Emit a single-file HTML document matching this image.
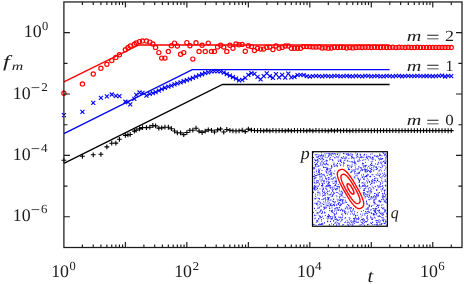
<!DOCTYPE html>
<html><head><meta charset="utf-8"><title>plot</title>
<style>html,body{margin:0;padding:0;background:#fff}svg{display:block}</style></head>
<body>
<svg width="464" height="284" viewBox="0 0 464 284">
<rect width="464" height="284" fill="#fff"/>
<polyline fill="none" stroke="#f00" stroke-width="1.35" points="63.9,81.8 138.9,45.0 389.6,45.0"/>
<polyline fill="none" stroke="#00f" stroke-width="1.35" points="63.9,133.6 192.3,69.6 389.6,69.6"/>
<polyline fill="none" stroke="#000" stroke-width="1.35" points="63.9,163.4 222.5,84.5 389.6,84.5"/>
<path d="M61.50,160.20h4.8M63.90,157.80v4.8M80.01,156.30h4.8M82.41,153.90v4.8M90.83,154.80h4.8M93.23,152.40v4.8M98.51,154.30h4.8M100.91,151.90v4.8M104.47,146.90h4.8M106.87,144.50v4.8M109.34,143.20h4.8M111.74,140.80v4.8M113.46,143.10h4.8M115.86,140.70v4.8M117.02,139.30h4.8M119.42,136.90v4.8M122.98,135.33h4.8M125.38,132.93v4.8M125.52,134.90h4.8M127.92,132.50v4.8M127.85,134.46h4.8M130.25,132.06v4.8M131.96,131.13h4.8M134.36,128.73v4.8M133.81,130.20h4.8M136.21,127.80v4.8M137.15,128.88h4.8M139.55,126.48v4.8M140.12,127.60h4.8M142.52,125.20v4.8M144.03,127.60h4.8M146.43,125.20v4.8M147.45,127.18h4.8M149.85,124.78v4.8M150.47,125.52h4.8M152.87,123.12v4.8M153.19,125.90h4.8M155.59,123.50v4.8M156.43,128.10h4.8M158.83,125.70v4.8M159.32,127.90h4.8M161.72,125.50v4.8M162.54,127.20h4.8M164.94,124.80v4.8M165.95,127.23h4.8M168.35,124.83v4.8M168.98,128.69h4.8M171.38,126.29v4.8M172.12,131.02h4.8M174.52,128.62v4.8M174.94,132.80h4.8M177.34,130.40v4.8M178.17,132.90h4.8M180.57,130.50v4.8M181.35,134.67h4.8M183.75,132.27v4.8M184.46,132.53h4.8M186.86,130.13v4.8M187.49,130.31h4.8M189.89,127.91v4.8M190.42,130.19h4.8M192.82,127.79v4.8M193.63,128.23h4.8M196.03,125.83v4.8M196.67,131.17h4.8M199.07,128.77v4.8M199.71,132.50h4.8M202.11,130.10v4.8M202.83,131.19h4.8M205.23,128.79v4.8M205.87,129.91h4.8M208.27,127.51v4.8M209.03,130.32h4.8M211.43,127.92v4.8M212.05,131.97h4.8M214.45,129.57v4.8M215.18,129.88h4.8M217.58,127.48v4.8M218.21,129.06h4.8M220.61,126.66v4.8M221.34,132.06h4.8M223.74,129.66v4.8M224.38,129.52h4.8M226.78,127.12v4.8M227.49,130.30h4.8M229.89,127.90v4.8M230.55,130.80h4.8M232.95,128.40v4.8M233.60,131.00h4.8M236.00,128.60v4.8M236.68,130.80h4.8M239.08,128.40v4.8M239.78,130.20h4.8M242.18,127.80v4.8M242.86,131.58h4.8M245.26,129.18v4.8M245.94,129.11h4.8M248.34,126.71v4.8M249.01,130.20h4.8M251.41,127.80v4.8M252.07,130.50h4.8M254.47,128.10v4.8M255.15,130.65h4.8M257.55,128.25v4.8M258.22,130.50h4.8M260.62,128.10v4.8M261.31,130.89h4.8M263.71,128.49v4.8M264.38,130.37h4.8M266.78,127.97v4.8M267.45,130.91h4.8M269.85,128.51v4.8M270.52,130.45h4.8M272.92,128.05v4.8M273.60,130.75h4.8M276.00,128.35v4.8M276.68,130.67h4.8M279.08,128.27v4.8M279.75,130.51h4.8M282.15,128.11v4.8M282.83,130.88h4.8M285.23,128.48v4.8M285.90,130.37h4.8M288.30,127.97v4.8M288.97,130.92h4.8M291.37,128.52v4.8M292.05,130.44h4.8M294.45,128.04v4.8M295.12,130.76h4.8M297.52,128.36v4.8M298.20,130.66h4.8M300.60,128.26v4.8M301.27,130.52h4.8M303.67,128.12v4.8M304.34,130.87h4.8M306.74,128.47v4.8M307.42,130.38h4.8M309.82,127.98v4.8M310.49,130.92h4.8M312.89,128.52v4.8M313.57,130.43h4.8M315.97,128.03v4.8M316.64,130.77h4.8M319.04,128.37v4.8M319.71,130.65h4.8M322.11,128.25v4.8M322.79,130.53h4.8M325.19,128.13v4.8M325.86,130.86h4.8M328.26,128.46v4.8M328.94,130.38h4.8M331.34,127.98v4.8M332.01,130.93h4.8M334.41,128.53v4.8M335.09,130.42h4.8M337.49,128.02v4.8M338.16,130.79h4.8M340.56,128.39v4.8M341.23,130.63h4.8M343.63,128.23v4.8M344.31,130.55h4.8M346.71,128.15v4.8M347.38,130.85h4.8M349.78,128.45v4.8M350.46,130.54h4.8M352.86,128.14v4.8M353.53,130.76h4.8M355.93,128.36v4.8M356.60,130.56h4.8M359.00,128.16v4.8M359.68,130.71h4.8M362.08,128.31v4.8M362.75,130.64h4.8M365.15,128.24v4.8M365.83,130.61h4.8M368.23,128.21v4.8M368.90,130.73h4.8M371.30,128.33v4.8M371.97,130.55h4.8M374.37,128.15v4.8M375.05,130.76h4.8M377.45,128.36v4.8M378.12,130.55h4.8M380.52,128.15v4.8M381.20,130.71h4.8M383.60,128.31v4.8M384.27,130.63h4.8M386.67,128.23v4.8M387.34,130.62h4.8M389.74,128.22v4.8M390.42,130.72h4.8M392.82,128.32v4.8M393.49,130.55h4.8M395.89,128.15v4.8M396.57,130.76h4.8M398.97,128.36v4.8M399.64,130.55h4.8M402.04,128.15v4.8M402.71,130.72h4.8M405.11,128.32v4.8M405.79,130.63h4.8M408.19,128.23v4.8M408.86,130.62h4.8M411.26,128.22v4.8M411.94,130.72h4.8M414.34,128.32v4.8M415.01,130.55h4.8M417.41,128.15v4.8M418.08,130.76h4.8M420.48,128.36v4.8M421.16,130.55h4.8M423.56,128.15v4.8M424.23,130.72h4.8M426.63,128.32v4.8M427.31,130.62h4.8M429.71,128.22v4.8M430.38,130.63h4.8M432.78,128.23v4.8M433.45,130.71h4.8M435.85,128.31v4.8M436.53,130.55h4.8M438.93,128.15v4.8M439.60,130.76h4.8M442.00,128.36v4.8M442.68,130.55h4.8M445.08,128.15v4.8M445.75,130.73h4.8M448.15,128.33v4.8M448.82,130.62h4.8M451.22,128.22v4.8" stroke="#000" stroke-width="1.1" fill="none"/>
<path d="M61.90,113.20l4.0,4.0M61.90,117.20l4.0,-4.0M80.41,109.80l4.0,4.0M80.41,113.80l4.0,-4.0M91.23,100.80l4.0,4.0M91.23,104.80l4.0,-4.0M98.91,95.90l4.0,4.0M98.91,99.90l4.0,-4.0M104.87,94.40l4.0,4.0M104.87,98.40l4.0,-4.0M109.74,92.50l4.0,4.0M109.74,96.50l4.0,-4.0M113.86,93.90l4.0,4.0M113.86,97.90l4.0,-4.0M117.42,94.20l4.0,4.0M117.42,98.20l4.0,-4.0M123.38,99.75l4.0,4.0M123.38,103.75l4.0,-4.0M125.92,100.13l4.0,4.0M125.92,104.13l4.0,-4.0M128.25,102.43l4.0,4.0M128.25,106.43l4.0,-4.0M132.36,96.85l4.0,4.0M132.36,100.85l4.0,-4.0M134.21,92.80l4.0,4.0M134.21,96.80l4.0,-4.0M137.55,90.51l4.0,4.0M137.55,94.51l4.0,-4.0M140.52,90.91l4.0,4.0M140.52,94.91l4.0,-4.0M144.43,93.58l4.0,4.0M144.43,97.58l4.0,-4.0M147.85,91.98l4.0,4.0M147.85,95.98l4.0,-4.0M150.87,91.09l4.0,4.0M150.87,95.09l4.0,-4.0M153.59,90.06l4.0,4.0M153.59,94.06l4.0,-4.0M156.83,88.63l4.0,4.0M156.83,92.63l4.0,-4.0M159.72,87.07l4.0,4.0M159.72,91.07l4.0,-4.0M162.94,85.76l4.0,4.0M162.94,89.76l4.0,-4.0M166.35,84.58l4.0,4.0M166.35,88.58l4.0,-4.0M169.38,83.53l4.0,4.0M169.38,87.53l4.0,-4.0M172.52,82.45l4.0,4.0M172.52,86.45l4.0,-4.0M175.34,81.47l4.0,4.0M175.34,85.47l4.0,-4.0M178.57,80.36l4.0,4.0M178.57,84.36l4.0,-4.0M181.75,79.26l4.0,4.0M181.75,83.26l4.0,-4.0M184.86,78.18l4.0,4.0M184.86,82.18l4.0,-4.0M187.89,77.14l4.0,4.0M187.89,81.14l4.0,-4.0M190.82,75.97l4.0,4.0M190.82,79.97l4.0,-4.0M194.03,74.69l4.0,4.0M194.03,78.69l4.0,-4.0M197.07,73.47l4.0,4.0M197.07,77.47l4.0,-4.0M200.11,72.26l4.0,4.0M200.11,76.26l4.0,-4.0M203.23,71.21l4.0,4.0M203.23,75.21l4.0,-4.0M206.27,70.28l4.0,4.0M206.27,74.28l4.0,-4.0M209.43,69.72l4.0,4.0M209.43,73.72l4.0,-4.0M212.45,69.44l4.0,4.0M212.45,73.44l4.0,-4.0M215.58,69.45l4.0,4.0M215.58,73.45l4.0,-4.0M218.61,69.73l4.0,4.0M218.61,73.73l4.0,-4.0M221.74,70.53l4.0,4.0M221.74,74.53l4.0,-4.0M224.78,72.07l4.0,4.0M224.78,76.07l4.0,-4.0M227.89,73.63l4.0,4.0M227.89,77.63l4.0,-4.0M230.95,75.12l4.0,4.0M230.95,79.12l4.0,-4.0M234.00,76.70l4.0,4.0M234.00,80.70l4.0,-4.0M237.08,78.39l4.0,4.0M237.08,82.39l4.0,-4.0M240.18,77.90l4.0,4.0M240.18,81.90l4.0,-4.0M243.26,75.83l4.0,4.0M243.26,79.83l4.0,-4.0M246.34,72.78l4.0,4.0M246.34,76.78l4.0,-4.0M249.41,71.05l4.0,4.0M249.41,75.05l4.0,-4.0M252.47,71.89l4.0,4.0M252.47,75.89l4.0,-4.0M255.55,74.85l4.0,4.0M255.55,78.85l4.0,-4.0M258.62,77.28l4.0,4.0M258.62,81.28l4.0,-4.0M261.71,74.09l4.0,4.0M261.71,78.09l4.0,-4.0M264.78,71.32l4.0,4.0M264.78,75.32l4.0,-4.0M267.85,74.05l4.0,4.0M267.85,78.05l4.0,-4.0M270.92,75.97l4.0,4.0M270.92,79.97l4.0,-4.0M274.00,72.10l4.0,4.0M274.00,76.10l4.0,-4.0M277.08,75.38l4.0,4.0M277.08,79.38l4.0,-4.0M280.15,72.85l4.0,4.0M280.15,76.85l4.0,-4.0M283.23,75.56l4.0,4.0M283.23,79.56l4.0,-4.0M286.30,71.65l4.0,4.0M286.30,75.65l4.0,-4.0M289.37,75.37l4.0,4.0M289.37,79.37l4.0,-4.0M292.45,74.87l4.0,4.0M292.45,78.87l4.0,-4.0M295.52,73.20l4.0,4.0M295.52,77.20l4.0,-4.0M298.60,72.80l4.0,4.0M298.60,76.80l4.0,-4.0M301.67,73.20l4.0,4.0M301.67,77.20l4.0,-4.0M304.74,74.11l4.0,4.0M304.74,78.11l4.0,-4.0M307.82,74.70l4.0,4.0M307.82,78.70l4.0,-4.0M310.89,74.12l4.0,4.0M310.89,78.12l4.0,-4.0M313.97,73.80l4.0,4.0M313.97,77.80l4.0,-4.0M317.04,74.19l4.0,4.0M317.04,78.19l4.0,-4.0M320.11,74.34l4.0,4.0M320.11,78.34l4.0,-4.0M323.19,73.85l4.0,4.0M323.19,77.85l4.0,-4.0M326.26,74.02l4.0,4.0M326.26,78.02l4.0,-4.0M329.34,74.40l4.0,4.0M329.34,78.40l4.0,-4.0M332.41,73.98l4.0,4.0M332.41,77.98l4.0,-4.0M335.49,73.88l4.0,4.0M335.49,77.88l4.0,-4.0M338.56,74.36l4.0,4.0M338.56,78.36l4.0,-4.0M341.63,74.16l4.0,4.0M341.63,78.16l4.0,-4.0M344.71,73.80l4.0,4.0M344.71,77.80l4.0,-4.0M347.78,74.24l4.0,4.0M347.78,78.24l4.0,-4.0M350.86,74.31l4.0,4.0M350.86,78.31l4.0,-4.0M353.93,73.83l4.0,4.0M353.93,77.83l4.0,-4.0M357.00,74.07l4.0,4.0M357.00,78.07l4.0,-4.0M360.08,74.39l4.0,4.0M360.08,78.39l4.0,-4.0M363.15,73.94l4.0,4.0M363.15,77.94l4.0,-4.0M366.23,73.91l4.0,4.0M366.23,77.91l4.0,-4.0M369.30,74.38l4.0,4.0M369.30,78.38l4.0,-4.0M372.37,74.11l4.0,4.0M372.37,78.11l4.0,-4.0M375.45,73.81l4.0,4.0M375.45,77.81l4.0,-4.0M378.52,74.27l4.0,4.0M378.52,78.27l4.0,-4.0M381.60,74.27l4.0,4.0M381.60,78.27l4.0,-4.0M384.67,73.81l4.0,4.0M384.67,77.81l4.0,-4.0M387.74,74.11l4.0,4.0M387.74,78.11l4.0,-4.0M390.82,74.38l4.0,4.0M390.82,78.38l4.0,-4.0M393.89,73.91l4.0,4.0M393.89,77.91l4.0,-4.0M396.97,73.94l4.0,4.0M396.97,77.94l4.0,-4.0M400.04,74.25l4.0,4.0M400.04,78.25l4.0,-4.0M403.11,74.08l4.0,4.0M403.11,78.08l4.0,-4.0M406.19,73.96l4.0,4.0M406.19,77.96l4.0,-4.0M409.26,74.20l4.0,4.0M409.26,78.20l4.0,-4.0M412.34,74.17l4.0,4.0M412.34,78.17l4.0,-4.0M415.41,73.95l4.0,4.0M415.41,77.95l4.0,-4.0M418.48,74.13l4.0,4.0M418.48,78.13l4.0,-4.0M421.56,74.23l4.0,4.0M421.56,78.23l4.0,-4.0M424.63,73.99l4.0,4.0M424.63,77.99l4.0,-4.0M427.71,74.04l4.0,4.0M427.71,78.04l4.0,-4.0M430.78,74.25l4.0,4.0M430.78,78.25l4.0,-4.0M433.85,74.06l4.0,4.0M433.85,78.06l4.0,-4.0M436.93,73.98l4.0,4.0M436.93,77.98l4.0,-4.0M440.00,73.52l4.0,4.0M440.00,77.52l4.0,-4.0M443.08,74.50l4.0,4.0M443.08,78.50l4.0,-4.0M446.15,73.95l4.0,4.0M446.15,77.95l4.0,-4.0M449.22,74.15l4.0,4.0M449.22,78.15l4.0,-4.0" stroke="#00f" stroke-width="1.1" fill="none"/>
<g fill="none" stroke="#f00" stroke-width="1.2">
<circle cx="63.90" cy="93.30" r="2.1"/>
<circle cx="82.41" cy="83.90" r="2.1"/>
<circle cx="93.23" cy="74.00" r="2.1"/>
<circle cx="100.91" cy="68.30" r="2.1"/>
<circle cx="106.87" cy="64.30" r="2.1"/>
<circle cx="111.74" cy="60.60" r="2.1"/>
<circle cx="115.86" cy="57.40" r="2.1"/>
<circle cx="119.42" cy="54.70" r="2.1"/>
<circle cx="125.38" cy="49.70" r="2.1"/>
<circle cx="127.92" cy="47.80" r="2.1"/>
<circle cx="130.25" cy="46.00" r="2.1"/>
<circle cx="134.36" cy="44.30" r="2.1"/>
<circle cx="136.21" cy="42.90" r="2.1"/>
<circle cx="139.55" cy="41.60" r="2.1"/>
<circle cx="142.52" cy="40.90" r="2.1"/>
<circle cx="146.43" cy="41.00" r="2.1"/>
<circle cx="149.85" cy="42.10" r="2.1"/>
<circle cx="152.87" cy="44.00" r="2.1"/>
<circle cx="155.59" cy="47.40" r="2.1"/>
<circle cx="158.83" cy="52.60" r="2.1"/>
<circle cx="161.72" cy="58.10" r="2.1"/>
<circle cx="164.94" cy="58.10" r="2.1"/>
<circle cx="168.35" cy="51.40" r="2.1"/>
<circle cx="171.38" cy="45.70" r="2.1"/>
<circle cx="174.52" cy="43.10" r="2.1"/>
<circle cx="177.34" cy="46.00" r="2.1"/>
<circle cx="180.57" cy="54.30" r="2.1"/>
<circle cx="183.75" cy="52.60" r="2.1"/>
<circle cx="186.86" cy="42.60" r="2.1"/>
<circle cx="189.89" cy="45.70" r="2.1"/>
<circle cx="192.82" cy="59.10" r="2.1"/>
<circle cx="196.03" cy="42.80" r="2.1"/>
<circle cx="199.07" cy="51.40" r="2.1"/>
<circle cx="202.11" cy="45.20" r="2.1"/>
<circle cx="205.23" cy="51.40" r="2.1"/>
<circle cx="208.27" cy="43.10" r="2.1"/>
<circle cx="211.43" cy="51.40" r="2.1"/>
<circle cx="214.45" cy="51.40" r="2.1"/>
<circle cx="217.58" cy="46.90" r="2.1"/>
<circle cx="220.61" cy="45.30" r="2.1"/>
<circle cx="223.74" cy="47.10" r="2.1"/>
<circle cx="226.78" cy="51.40" r="2.1"/>
<circle cx="229.89" cy="45.30" r="2.1"/>
<circle cx="232.95" cy="48.30" r="2.1"/>
<circle cx="236.00" cy="44.00" r="2.1"/>
<circle cx="239.08" cy="44.80" r="2.1"/>
<circle cx="242.18" cy="44.40" r="2.1"/>
<circle cx="245.26" cy="51.30" r="2.1"/>
<circle cx="248.34" cy="45.80" r="2.1"/>
<circle cx="251.41" cy="46.60" r="2.1"/>
<circle cx="254.47" cy="50.50" r="2.1"/>
<circle cx="257.55" cy="48.30" r="2.1"/>
<circle cx="260.62" cy="49.10" r="2.1"/>
<circle cx="263.71" cy="49.10" r="2.1"/>
<circle cx="266.78" cy="47.40" r="2.1"/>
<circle cx="269.85" cy="47.10" r="2.1"/>
<circle cx="272.92" cy="49.50" r="2.1"/>
<circle cx="276.00" cy="46.00" r="2.1"/>
<circle cx="279.08" cy="48.30" r="2.1"/>
<circle cx="282.15" cy="47.40" r="2.1"/>
<circle cx="285.23" cy="46.00" r="2.1"/>
<circle cx="288.30" cy="46.00" r="2.1"/>
<circle cx="291.37" cy="48.30" r="2.1"/>
<circle cx="294.45" cy="48.30" r="2.1"/>
<circle cx="297.52" cy="48.30" r="2.1"/>
<circle cx="300.60" cy="48.30" r="2.1"/>
<circle cx="303.67" cy="46.60" r="2.1"/>
<circle cx="306.74" cy="46.60" r="2.1"/>
<circle cx="309.82" cy="46.70" r="2.1"/>
<circle cx="312.89" cy="47.10" r="2.1"/>
<circle cx="315.97" cy="47.10" r="2.1"/>
<circle cx="319.04" cy="46.90" r="2.1"/>
<circle cx="322.11" cy="48.08" r="2.1"/>
<circle cx="325.19" cy="47.83" r="2.1"/>
<circle cx="328.26" cy="48.15" r="2.1"/>
<circle cx="331.34" cy="47.97" r="2.1"/>
<circle cx="334.41" cy="47.29" r="2.1"/>
<circle cx="337.49" cy="47.58" r="2.1"/>
<circle cx="340.56" cy="47.27" r="2.1"/>
<circle cx="343.63" cy="47.39" r="2.1"/>
<circle cx="346.71" cy="47.94" r="2.1"/>
<circle cx="349.78" cy="47.62" r="2.1"/>
<circle cx="352.86" cy="47.89" r="2.1"/>
<circle cx="355.93" cy="47.45" r="2.1"/>
<circle cx="359.00" cy="47.24" r="2.1"/>
<circle cx="362.08" cy="47.57" r="2.1"/>
<circle cx="365.15" cy="47.34" r="2.1"/>
<circle cx="368.23" cy="47.31" r="2.1"/>
<circle cx="371.30" cy="47.58" r="2.1"/>
<circle cx="374.37" cy="47.25" r="2.1"/>
<circle cx="377.45" cy="47.42" r="2.1"/>
<circle cx="380.52" cy="47.52" r="2.1"/>
<circle cx="383.60" cy="47.22" r="2.1"/>
<circle cx="386.67" cy="47.52" r="2.1"/>
<circle cx="389.74" cy="47.42" r="2.1"/>
<circle cx="392.82" cy="47.25" r="2.1"/>
<circle cx="395.89" cy="47.58" r="2.1"/>
<circle cx="398.97" cy="47.31" r="2.1"/>
<circle cx="402.04" cy="47.34" r="2.1"/>
<circle cx="405.11" cy="47.57" r="2.1"/>
<circle cx="408.19" cy="47.24" r="2.1"/>
<circle cx="411.26" cy="47.45" r="2.1"/>
<circle cx="414.34" cy="47.50" r="2.1"/>
<circle cx="417.41" cy="47.22" r="2.1"/>
<circle cx="420.48" cy="47.40" r="2.1"/>
<circle cx="423.56" cy="47.40" r="2.1"/>
<circle cx="426.63" cy="47.40" r="2.1"/>
<circle cx="429.71" cy="47.40" r="2.1"/>
<circle cx="432.78" cy="47.40" r="2.1"/>
<circle cx="435.85" cy="47.40" r="2.1"/>
<circle cx="438.93" cy="47.40" r="2.1"/>
<circle cx="442.00" cy="47.40" r="2.1"/>
<circle cx="445.08" cy="47.40" r="2.1"/>
<circle cx="448.15" cy="47.40" r="2.1"/>
<circle cx="451.22" cy="47.40" r="2.1"/>
</g>
<path d="M381.0,186.5h.01M326.9,189.8h.01M320.3,174.7h.01M320.0,211.5h.01M364.1,155.6h.01M385.2,222.8h.01M324.9,153.7h.01M352.0,156.9h.01M327.3,170.2h.01M315.6,186.4h.01M345.6,213.9h.01M386.3,225.0h.01M374.8,204.1h.01M334.5,157.7h.01M369.4,181.7h.01M375.3,180.7h.01M383.4,214.2h.01M313.4,167.9h.01M379.9,186.8h.01M385.1,181.5h.01M318.7,198.4h.01M370.3,172.2h.01M319.8,176.8h.01M383.9,207.7h.01M322.0,170.5h.01M320.8,157.0h.01M371.7,165.5h.01M327.3,205.8h.01M323.0,199.4h.01M321.9,183.2h.01M329.0,172.2h.01M384.4,211.0h.01M335.6,217.0h.01M328.8,181.3h.01M375.9,199.3h.01M320.7,224.6h.01M329.0,171.4h.01M369.9,176.5h.01M335.1,157.9h.01M320.0,195.0h.01M331.2,196.3h.01M383.5,187.8h.01M355.4,215.6h.01M326.8,163.8h.01M379.8,212.1h.01M331.6,166.4h.01M367.5,221.0h.01M327.8,221.7h.01M377.9,196.5h.01M344.2,160.2h.01M316.2,222.6h.01M330.8,203.9h.01M332.2,212.5h.01M357.0,173.9h.01M326.2,205.0h.01M318.4,169.2h.01M354.3,214.6h.01M358.3,173.0h.01M380.5,167.4h.01M314.6,172.2h.01M346.0,157.0h.01M326.3,179.4h.01M355.2,162.2h.01M339.9,217.4h.01M385.1,200.4h.01M363.9,195.1h.01M323.7,155.2h.01M314.7,218.8h.01M364.6,222.6h.01M315.0,198.9h.01M348.7,205.7h.01M336.7,225.3h.01M318.9,192.3h.01M367.3,218.1h.01M367.3,203.8h.01M371.4,219.2h.01M339.1,202.4h.01M379.3,216.0h.01M343.9,210.1h.01M376.5,194.3h.01M359.1,180.4h.01M319.3,199.1h.01M386.0,216.6h.01M366.6,180.9h.01M367.1,194.9h.01M345.6,213.6h.01M319.5,207.2h.01M315.6,196.3h.01M348.6,169.3h.01M364.4,188.8h.01M358.3,219.6h.01M332.1,153.4h.01M335.4,201.9h.01M328.2,164.9h.01M379.6,200.6h.01M345.7,217.5h.01M337.3,201.0h.01M327.9,183.9h.01M372.3,219.1h.01M377.7,180.6h.01M356.0,175.6h.01M323.4,188.7h.01M374.6,214.3h.01M365.4,221.7h.01M333.6,164.9h.01M329.0,182.7h.01M336.5,213.6h.01M385.2,185.5h.01M318.9,154.9h.01M377.2,155.6h.01M365.2,194.1h.01M336.0,210.2h.01M314.8,162.5h.01M346.6,154.4h.01M374.0,169.9h.01M323.7,156.0h.01M359.4,185.1h.01M372.4,222.3h.01M363.4,167.1h.01M348.1,165.6h.01M314.2,187.0h.01M365.6,165.6h.01M333.3,177.8h.01M364.4,190.5h.01M342.2,210.2h.01M379.6,158.9h.01M381.6,205.2h.01M322.9,185.6h.01M359.1,218.8h.01M340.9,194.0h.01M377.7,210.6h.01M382.4,186.3h.01M361.0,167.5h.01M366.2,212.1h.01M329.0,218.1h.01M385.1,223.7h.01M352.7,210.1h.01M336.8,218.8h.01M376.0,178.0h.01M319.5,184.7h.01M353.6,208.5h.01M349.0,154.7h.01M372.5,157.3h.01M371.9,165.2h.01M337.9,209.9h.01M323.7,163.4h.01M374.8,202.8h.01M382.5,188.4h.01M382.8,158.9h.01M329.6,190.9h.01M334.6,205.6h.01M375.1,193.3h.01M336.2,180.3h.01M375.2,218.1h.01M328.6,214.5h.01M384.2,190.7h.01M355.3,167.2h.01M357.6,154.6h.01M384.3,190.1h.01M342.7,210.9h.01M363.9,157.4h.01M383.3,219.8h.01M333.1,187.0h.01M322.7,184.2h.01M373.0,218.1h.01M327.4,197.6h.01M381.0,162.0h.01M370.4,154.3h.01M327.6,169.1h.01M363.6,176.0h.01M339.4,197.7h.01M321.1,205.8h.01M322.4,189.7h.01M331.7,167.0h.01M352.1,164.2h.01M328.3,198.5h.01M375.6,197.1h.01M376.0,169.5h.01M367.6,211.6h.01M379.4,175.6h.01M336.4,219.7h.01M329.3,225.2h.01M378.3,162.3h.01M330.9,205.5h.01M332.4,159.7h.01M374.2,183.3h.01M371.1,161.8h.01M342.8,202.4h.01M314.7,167.2h.01M363.3,218.9h.01M384.2,161.0h.01M350.4,207.8h.01M327.2,157.7h.01M321.2,155.3h.01M355.0,163.3h.01M326.9,167.4h.01M374.8,224.6h.01M381.2,159.5h.01M317.9,221.8h.01M347.2,208.2h.01M337.3,186.6h.01M357.3,153.6h.01M364.6,214.0h.01M326.7,185.6h.01M367.4,182.1h.01M327.7,164.6h.01M350.9,153.7h.01M378.7,210.9h.01M364.9,215.2h.01M359.4,182.0h.01M385.2,211.2h.01M332.3,218.9h.01M367.8,209.2h.01M373.0,182.1h.01M378.9,216.6h.01M369.3,182.1h.01M366.2,157.7h.01M338.4,186.7h.01M314.2,178.5h.01M330.4,221.3h.01M362.1,177.2h.01M386.5,199.3h.01M385.0,154.3h.01M332.2,181.8h.01M317.1,166.8h.01M340.9,159.8h.01M331.7,218.5h.01M384.1,193.9h.01M386.1,199.0h.01M372.6,158.1h.01M316.7,220.3h.01M325.1,186.9h.01M325.8,188.6h.01M358.1,156.9h.01M382.5,183.2h.01M334.1,204.7h.01M335.0,153.6h.01M331.3,155.7h.01M324.8,207.5h.01M341.9,217.9h.01M368.1,156.2h.01M385.7,221.3h.01M318.8,218.5h.01M384.5,170.3h.01M351.7,220.8h.01M366.2,186.7h.01M385.0,212.0h.01M357.5,161.0h.01M359.0,185.8h.01M328.3,156.4h.01M352.0,161.6h.01M345.8,201.2h.01M370.3,191.2h.01M386.3,221.9h.01M367.1,169.9h.01M321.7,217.5h.01M370.7,198.1h.01M363.5,193.7h.01M368.5,166.4h.01M331.6,223.9h.01M380.3,216.5h.01M316.3,157.0h.01M333.2,183.5h.01M359.0,160.1h.01M353.0,157.9h.01M319.7,201.8h.01M328.8,177.6h.01M367.8,213.6h.01M318.8,161.3h.01M372.6,198.0h.01M369.6,168.1h.01M372.6,179.4h.01M361.2,224.6h.01M337.2,192.5h.01M367.9,219.6h.01M320.5,216.3h.01M319.1,158.6h.01M363.5,174.3h.01M370.1,158.1h.01M329.0,200.8h.01M319.4,174.7h.01M366.4,203.1h.01M334.1,163.0h.01M339.6,205.4h.01M340.2,161.1h.01M365.2,194.0h.01M380.5,221.0h.01M380.2,184.5h.01M372.1,174.8h.01M336.6,181.7h.01M381.7,217.7h.01M331.6,178.9h.01M327.7,193.6h.01M371.7,191.9h.01M374.5,193.5h.01M326.3,207.8h.01M377.8,173.1h.01M315.0,190.1h.01M384.0,200.0h.01M372.2,157.3h.01M353.4,209.9h.01M319.5,158.5h.01M367.3,218.0h.01M319.6,198.7h.01M323.9,206.9h.01M360.8,170.5h.01M329.5,208.3h.01M351.5,208.2h.01M384.2,201.5h.01M380.3,182.5h.01M373.8,201.1h.01M375.8,211.2h.01M374.4,217.2h.01M383.4,199.2h.01M372.0,183.3h.01M344.1,163.2h.01M367.6,224.7h.01M340.9,164.8h.01M328.3,183.5h.01M334.7,223.2h.01M317.7,175.0h.01M321.8,199.7h.01M370.1,165.7h.01M318.0,186.0h.01M356.1,218.8h.01M316.1,160.5h.01M326.9,168.4h.01M330.6,204.8h.01M356.9,168.9h.01M326.9,173.0h.01M326.0,207.7h.01M336.2,192.5h.01M373.1,187.5h.01M332.4,217.2h.01M380.2,177.5h.01M353.4,222.2h.01M348.7,168.7h.01M317.0,221.5h.01M372.0,180.6h.01M333.5,224.6h.01M361.5,169.9h.01M314.2,187.0h.01M340.6,210.6h.01M365.5,196.7h.01M324.9,164.0h.01M376.9,190.1h.01M360.0,224.8h.01M332.9,191.5h.01M324.4,208.6h.01M313.5,212.4h.01M375.3,212.4h.01M319.4,172.2h.01M365.8,159.7h.01M383.2,195.3h.01M376.1,174.7h.01M371.1,182.9h.01M380.4,159.2h.01M373.8,167.8h.01M324.9,213.1h.01M319.0,174.8h.01M347.6,204.6h.01M339.7,202.6h.01M321.1,181.3h.01M347.2,222.9h.01M374.1,200.2h.01M314.3,180.0h.01M365.3,169.9h.01M314.2,224.7h.01M371.8,167.6h.01M358.4,173.7h.01M340.9,191.9h.01M335.2,177.1h.01M342.1,201.1h.01M332.1,167.1h.01M366.9,176.6h.01M382.5,193.5h.01M366.3,176.7h.01M373.8,159.3h.01M323.7,159.5h.01M326.5,181.9h.01M374.6,195.7h.01M320.0,169.1h.01M324.9,161.6h.01M343.1,157.9h.01M380.7,183.7h.01M369.5,212.3h.01M343.5,153.7h.01M342.7,203.5h.01M385.2,210.0h.01M314.8,176.7h.01M338.4,199.9h.01M321.2,180.1h.01M350.6,210.0h.01M373.7,197.1h.01M325.0,208.4h.01M379.4,192.5h.01M339.2,189.0h.01M323.8,204.5h.01M385.5,190.1h.01M365.7,213.4h.01M327.8,221.3h.01M359.2,167.0h.01M319.5,170.4h.01M337.5,220.2h.01M322.5,223.4h.01M323.3,218.4h.01M354.4,171.8h.01M379.9,224.8h.01M373.2,196.4h.01M322.4,212.6h.01M334.5,217.9h.01M331.0,194.3h.01M374.1,166.1h.01M353.4,158.1h.01M315.7,165.7h.01M385.6,220.9h.01M361.5,175.0h.01M341.3,195.7h.01M372.2,153.8h.01M328.0,186.6h.01M323.9,180.7h.01M355.0,165.2h.01M351.4,171.8h.01M354.9,176.8h.01M360.3,155.4h.01M362.4,163.1h.01M383.5,196.3h.01M368.8,207.3h.01M348.9,225.0h.01M374.7,214.8h.01M354.8,218.5h.01M345.0,218.4h.01M336.8,156.6h.01M366.4,218.1h.01M366.9,196.1h.01M368.4,174.8h.01M356.8,157.7h.01M322.5,185.1h.01M317.2,203.2h.01M351.9,170.0h.01M335.8,181.4h.01M330.6,157.6h.01M380.0,222.9h.01M362.1,215.6h.01M344.2,211.2h.01M329.6,206.9h.01M354.8,218.3h.01M320.6,210.2h.01M322.4,191.7h.01M382.9,152.6h.01M331.2,174.4h.01M337.1,157.2h.01M378.8,211.9h.01M356.2,155.9h.01M315.7,218.0h.01M335.9,188.9h.01M381.7,223.7h.01M348.0,167.6h.01M335.0,219.7h.01M379.0,166.8h.01M374.7,178.4h.01M347.9,165.1h.01M377.7,225.0h.01M328.2,198.6h.01M327.4,216.6h.01M317.1,160.3h.01M366.5,175.4h.01M379.2,215.9h.01M365.5,162.4h.01M364.3,220.8h.01M345.9,158.3h.01M329.7,174.9h.01M365.3,166.9h.01M326.6,169.7h.01M340.6,200.8h.01M378.1,195.5h.01M330.1,174.5h.01M381.1,201.1h.01M333.6,199.2h.01M320.0,224.1h.01M352.2,155.9h.01M357.2,173.3h.01M331.7,211.0h.01M319.8,173.3h.01M368.6,170.5h.01M333.8,192.5h.01M327.0,217.9h.01M385.6,155.0h.01M347.1,207.2h.01M341.5,220.2h.01M349.9,165.7h.01M339.7,200.5h.01M370.6,190.2h.01M350.4,214.1h.01M363.4,190.5h.01M383.0,165.3h.01M370.4,164.6h.01M357.9,169.7h.01M345.6,208.8h.01M370.9,210.2h.01M330.6,188.2h.01M329.6,194.8h.01M349.9,155.2h.01M355.3,216.1h.01M326.6,163.6h.01M314.7,188.7h.01M332.6,210.7h.01M318.7,218.6h.01M371.3,169.9h.01M324.1,175.2h.01M316.5,175.5h.01M332.8,195.4h.01M319.9,212.3h.01M325.9,171.1h.01M325.1,202.8h.01M374.1,209.8h.01M317.9,182.5h.01M384.3,155.7h.01M349.2,208.0h.01M385.5,163.1h.01M346.7,206.8h.01M316.3,170.1h.01M378.5,162.9h.01M344.4,158.2h.01M315.9,225.1h.01M369.2,206.0h.01M330.2,171.0h.01M353.7,170.2h.01M347.1,220.4h.01M385.1,197.0h.01M316.3,181.9h.01M360.9,156.9h.01M338.5,203.1h.01M376.6,195.6h.01M378.2,186.3h.01M342.1,213.9h.01M341.3,209.4h.01M329.1,177.9h.01M326.8,192.6h.01M325.4,167.4h.01M329.1,186.6h.01M336.0,185.1h.01M386.0,202.0h.01M376.5,167.5h.01M341.4,157.9h.01M363.9,179.0h.01M333.5,154.0h.01M326.7,171.7h.01M342.1,219.8h.01M365.7,172.1h.01M339.8,163.8h.01M381.9,178.8h.01M369.4,205.2h.01M379.7,154.1h.01M319.5,216.8h.01M337.2,208.7h.01M351.4,156.6h.01M316.4,163.6h.01M356.9,154.9h.01M336.2,183.4h.01M353.2,162.5h.01M365.1,171.5h.01M366.4,201.1h.01M324.2,167.5h.01M333.9,204.5h.01M376.7,169.0h.01M334.8,177.7h.01M329.2,155.6h.01M315.2,198.5h.01M354.8,211.4h.01M384.7,174.3h.01M362.4,219.5h.01M329.2,202.7h.01M362.1,222.1h.01M376.9,169.7h.01M359.6,159.1h.01M317.8,180.5h.01M337.4,188.8h.01M333.9,164.1h.01M325.6,201.0h.01M330.9,159.4h.01M324.4,195.0h.01M364.7,192.8h.01M364.6,154.3h.01M318.0,182.0h.01M317.4,188.7h.01M315.1,177.9h.01M378.6,193.8h.01M332.5,201.2h.01M327.0,186.7h.01M358.4,222.1h.01M339.9,194.5h.01M382.3,208.7h.01M333.6,213.0h.01M377.7,180.4h.01M379.9,155.4h.01M323.3,189.5h.01M336.0,178.8h.01M384.8,163.5h.01M327.5,169.2h.01M363.1,169.7h.01M313.5,192.2h.01M354.4,213.1h.01M384.2,176.9h.01M338.7,217.1h.01M336.3,204.7h.01M383.9,212.6h.01M325.1,197.8h.01M368.1,191.4h.01M330.7,170.7h.01M337.2,165.5h.01M351.0,161.8h.01M318.0,157.6h.01M320.9,203.9h.01M321.6,185.5h.01M369.8,187.6h.01M325.3,215.6h.01M377.0,156.5h.01M332.0,189.5h.01M371.6,181.1h.01M365.7,170.9h.01M365.7,176.4h.01M337.8,207.8h.01M375.0,212.9h.01M365.1,197.9h.01M374.1,210.9h.01M322.6,180.0h.01M362.3,169.4h.01M326.9,153.6h.01M356.2,221.1h.01M384.3,162.3h.01M363.7,183.1h.01M359.6,181.5h.01M381.6,224.5h.01M317.0,204.5h.01M322.1,155.7h.01M334.3,205.8h.01M386.0,161.3h.01M337.5,154.5h.01M371.9,213.6h.01M334.1,181.1h.01M385.1,180.9h.01M364.1,192.3h.01M371.9,163.3h.01M326.2,160.4h.01M381.6,170.9h.01M349.1,161.4h.01M337.1,154.0h.01M354.8,163.0h.01M359.1,172.5h.01M330.0,187.7h.01M317.1,157.3h.01M378.7,175.1h.01M319.1,165.9h.01M348.7,225.1h.01M328.2,215.7h.01M372.4,181.4h.01M317.6,192.7h.01M333.7,220.9h.01M376.6,224.9h.01M345.8,213.3h.01M366.4,165.4h.01M315.4,164.9h.01M322.1,158.0h.01M339.6,207.4h.01M336.1,190.0h.01M314.2,167.9h.01M383.5,153.4h.01M351.9,211.5h.01M371.3,206.1h.01M342.6,211.0h.01M373.9,208.5h.01M385.5,159.9h.01M382.9,181.9h.01M365.0,170.8h.01M379.9,154.3h.01M355.6,169.1h.01M361.4,211.6h.01M340.1,199.0h.01M379.6,176.0h.01M320.3,177.0h.01M367.6,168.0h.01M367.7,192.3h.01M363.1,165.5h.01M321.1,163.0h.01M314.1,189.2h.01M352.7,221.9h.01M328.4,216.7h.01M336.9,207.5h.01M321.3,224.4h.01M344.8,222.6h.01M329.5,182.3h.01M365.0,165.5h.01M333.4,201.9h.01M382.7,176.0h.01M326.8,178.6h.01M385.7,163.4h.01M359.8,180.1h.01M360.5,168.0h.01M358.4,217.2h.01M376.0,198.3h.01M321.7,213.5h.01M363.8,185.6h.01M362.0,183.1h.01M351.1,154.9h.01M359.3,185.1h.01M381.5,163.7h.01M347.7,224.8h.01M367.3,175.4h.01M367.3,224.6h.01M342.8,215.7h.01M322.7,224.6h.01M349.3,169.6h.01M374.8,199.8h.01M381.9,212.9h.01M371.7,189.8h.01M386.0,157.3h.01M377.0,204.4h.01M331.7,211.3h.01M376.7,166.9h.01M333.8,199.4h.01M318.8,193.0h.01M370.9,188.3h.01M331.1,210.8h.01M375.9,208.7h.01M353.6,218.5h.01M371.6,163.6h.01M340.1,159.9h.01M316.1,177.8h.01M376.6,213.3h.01M322.0,165.8h.01M341.8,214.4h.01M358.5,218.2h.01M318.7,224.5h.01M328.5,198.4h.01M377.5,205.5h.01M327.8,201.2h.01M344.9,153.7h.01M359.4,172.9h.01M326.6,161.9h.01M364.1,186.5h.01M322.8,161.0h.01M382.2,197.0h.01M386.1,202.9h.01M367.2,178.8h.01M336.1,182.3h.01M324.1,198.5h.01M344.4,212.3h.01M350.4,221.1h.01M338.7,203.8h.01M330.6,194.7h.01M334.2,216.1h.01M334.3,214.8h.01M362.9,185.7h.01M381.7,180.8h.01M367.7,196.3h.01M346.2,157.3h.01M345.6,222.0h.01M334.8,203.2h.01M362.5,170.4h.01M343.5,162.2h.01M378.9,170.9h.01M373.4,214.5h.01M320.7,217.8h.01M319.9,179.1h.01M340.8,205.2h.01M362.3,177.6h.01M379.0,221.7h.01M315.1,198.7h.01M384.3,223.6h.01M386.0,181.3h.01M374.0,199.9h.01M364.6,225.2h.01M318.3,186.2h.01M342.7,200.3h.01M329.3,224.6h.01M328.7,179.5h.01M323.9,181.3h.01M367.6,158.7h.01M325.6,199.8h.01M331.9,211.6h.01M366.8,209.1h.01M322.1,186.7h.01M314.6,215.1h.01M382.4,217.8h.01M315.2,178.1h.01M321.5,210.0h.01M335.4,189.5h.01M322.5,193.9h.01M322.9,159.0h.01M370.2,170.6h.01M343.7,156.6h.01M329.3,185.5h.01M375.6,160.2h.01M375.5,163.9h.01M384.3,190.8h.01M343.1,197.1h.01M376.5,222.7h.01M343.6,153.4h.01M324.6,212.1h.01M367.1,204.4h.01M324.8,191.2h.01M315.5,160.6h.01M335.4,222.9h.01M360.4,214.3h.01M316.8,182.9h.01M319.1,171.6h.01M321.6,219.4h.01M337.4,188.2h.01M361.2,217.1h.01M382.6,193.9h.01M350.0,218.4h.01M367.4,171.4h.01M317.0,213.4h.01M317.9,191.0h.01M329.7,159.8h.01M348.8,169.4h.01M368.2,188.1h.01M314.1,182.2h.01M384.0,153.1h.01M356.8,222.5h.01M340.1,196.1h.01M336.4,188.8h.01M351.1,207.4h.01M317.3,159.4h.01M331.8,172.3h.01M371.6,183.6h.01M376.3,181.9h.01M334.3,202.1h.01M319.6,224.2h.01M374.2,176.5h.01M336.6,212.2h.01M371.0,199.3h.01M317.5,208.2h.01M316.9,198.0h.01M353.8,220.1h.01M360.1,154.2h.01M381.7,207.4h.01M355.8,153.0h.01M367.3,183.0h.01M363.1,224.2h.01M380.4,158.1h.01M370.5,184.6h.01M368.3,180.1h.01M322.0,175.9h.01M367.1,157.8h.01M321.9,213.3h.01M321.7,161.2h.01M336.1,222.0h.01M354.4,219.7h.01M328.8,182.8h.01M352.6,213.7h.01M322.4,216.2h.01M347.9,154.9h.01M362.7,220.1h.01M341.8,209.2h.01M321.1,206.6h.01M325.6,195.2h.01M328.2,177.8h.01M325.4,178.0h.01M341.8,194.4h.01M375.0,178.7h.01M385.1,176.5h.01M364.4,169.6h.01M332.5,205.7h.01M355.4,171.3h.01M318.1,212.6h.01M341.0,204.7h.01M345.0,197.5h.01M354.3,223.6h.01M379.9,185.8h.01M349.0,169.4h.01M368.5,160.0h.01M335.8,214.3h.01M316.0,203.4h.01M337.7,163.6h.01M382.9,208.2h.01M372.3,159.7h.01M370.7,168.5h.01M328.0,191.5h.01M358.0,161.4h.01M369.3,195.0h.01M379.1,219.8h.01M363.8,179.1h.01M382.9,204.9h.01M334.7,215.0h.01M366.5,171.9h.01M331.6,154.1h.01M352.7,171.0h.01M334.8,171.0h.01M323.0,187.9h.01M333.3,173.3h.01M333.7,189.6h.01M377.3,164.2h.01M376.2,214.8h.01M367.0,191.5h.01M361.6,219.5h.01M370.1,171.5h.01M317.4,220.7h.01M339.9,209.9h.01M330.5,185.5h.01M340.5,205.7h.01M382.4,189.4h.01M354.8,178.0h.01M330.4,221.7h.01M321.5,221.0h.01M361.4,157.8h.01M379.3,160.0h.01M354.7,161.3h.01M385.7,175.1h.01M377.2,157.1h.01M362.1,157.5h.01M315.6,194.1h.01M385.2,202.4h.01M375.9,209.7h.01M351.5,158.2h.01M351.9,166.0h.01M349.9,167.0h.01M364.9,183.0h.01M348.9,158.3h.01M384.5,193.4h.01M323.3,174.4h.01M337.9,203.7h.01M382.0,223.6h.01M382.8,219.9h.01M376.2,220.6h.01M314.9,188.2h.01M381.6,158.9h.01M351.4,222.4h.01M315.7,160.7h.01M376.9,222.2h.01M315.2,154.9h.01M374.1,202.7h.01M368.8,211.4h.01M313.4,157.5h.01M371.5,223.6h.01M374.3,182.3h.01M314.5,208.6h.01M332.6,195.2h.01M362.7,185.7h.01M330.5,216.8h.01M326.2,163.5h.01M331.9,187.4h.01M370.7,176.8h.01M330.8,200.2h.01M332.4,190.6h.01M332.0,216.4h.01M326.9,169.5h.01M366.5,201.6h.01M371.2,191.9h.01M319.1,208.1h.01M331.3,168.4h.01M343.7,224.6h.01M380.0,224.7h.01M341.7,162.5h.01M371.1,209.5h.01M338.1,210.1h.01M348.2,212.1h.01M314.4,188.9h.01M341.2,157.3h.01M380.3,163.0h.01M328.4,216.5h.01M383.6,220.4h.01M338.4,220.3h.01M323.8,204.6h.01M382.5,166.6h.01M323.3,201.9h.01M377.9,205.5h.01M382.8,185.6h.01M340.6,161.3h.01M333.4,220.9h.01M318.6,166.0h.01M338.8,156.2h.01M335.8,165.9h.01M322.4,190.9h.01M369.1,190.9h.01M382.6,158.5h.01M329.7,158.2h.01M336.0,207.9h.01M381.0,189.3h.01M325.1,176.6h.01M355.0,174.0h.01M371.4,223.4h.01M375.2,186.4h.01M327.3,221.3h.01M384.9,154.4h.01M369.2,181.7h.01M317.2,164.4h.01M326.0,206.2h.01M328.9,154.0h.01M329.5,210.7h.01M347.4,165.9h.01M314.5,174.7h.01M316.4,171.6h.01M358.6,179.5h.01M378.0,194.9h.01M380.2,169.6h.01M381.8,214.7h.01M377.9,164.4h.01M350.6,224.2h.01M334.5,165.0h.01M366.3,169.7h.01M356.1,164.1h.01M382.7,173.3h.01M320.5,202.6h.01M338.8,193.3h.01M349.7,219.7h.01M313.5,188.7h.01M333.1,194.4h.01M359.6,186.2h.01M320.0,188.8h.01M384.3,173.0h.01M345.8,158.8h.01M371.9,169.7h.01M374.0,210.7h.01M332.0,218.3h.01M354.0,221.4h.01M334.6,213.8h.01M327.8,168.3h.01M374.4,211.1h.01M384.9,219.3h.01M363.5,210.6h.01M365.4,211.5h.01M372.0,165.4h.01M373.0,174.7h.01M331.2,219.5h.01M315.1,189.8h.01M338.5,210.2h.01M358.0,218.9h.01M381.6,199.5h.01M318.1,201.1h.01M321.4,224.1h.01M377.1,175.2h.01M327.0,203.1h.01M368.8,224.3h.01M358.9,161.7h.01M366.5,156.9h.01M376.8,208.5h.01M370.8,216.2h.01M355.0,221.2h.01M360.1,188.4h.01M315.1,164.3h.01M371.6,169.2h.01M364.2,190.1h.01M327.1,199.7h.01M363.6,221.1h.01M337.6,220.0h.01M380.0,173.7h.01M383.0,197.7h.01M383.8,208.9h.01M316.0,215.3h.01M367.8,170.8h.01M328.0,194.9h.01M331.0,176.4h.01M318.5,156.4h.01M339.4,190.9h.01M382.8,199.1h.01M330.6,187.1h.01M383.5,161.5h.01M345.1,202.5h.01M369.1,193.0h.01M360.3,220.9h.01M379.4,170.9h.01M353.0,225.2h.01M352.0,166.4h.01M369.4,156.7h.01M324.4,192.7h.01M333.3,205.0h.01M366.5,175.8h.01M369.5,199.7h.01M365.0,185.8h.01M345.0,160.4h.01M348.1,222.1h.01M378.3,156.7h.01M318.6,172.2h.01M364.2,184.4h.01M322.7,183.6h.01M342.9,199.9h.01M316.8,204.3h.01M322.8,156.6h.01M348.0,153.8h.01M318.7,181.0h.01M347.7,160.3h.01M383.1,214.6h.01M336.5,224.2h.01M322.2,174.7h.01M329.6,215.6h.01M342.6,217.1h.01M332.2,210.2h.01M365.2,185.2h.01M359.0,182.5h.01M335.6,208.8h.01M377.7,185.7h.01M340.9,217.9h.01M384.8,209.8h.01M342.7,201.4h.01M367.6,174.2h.01M366.3,221.7h.01M345.2,200.1h.01M329.9,208.6h.01M352.8,223.9h.01M338.4,204.4h.01M314.6,182.9h.01M369.4,171.5h.01M358.2,168.7h.01M342.5,224.9h.01M327.8,219.0h.01M317.8,195.0h.01M373.4,213.5h.01M342.0,195.5h.01M368.0,194.7h.01M331.8,203.9h.01M385.6,162.5h.01M370.5,176.2h.01M366.5,221.7h.01M333.5,193.9h.01M325.6,198.1h.01M378.7,200.9h.01M334.5,211.2h.01M344.1,163.2h.01M352.1,224.7h.01M355.0,222.0h.01M339.2,207.8h.01M318.9,174.5h.01M374.0,180.3h.01M333.4,178.7h.01M352.7,154.4h.01M340.8,200.4h.01M324.3,175.2h.01M377.2,220.5h.01M331.7,165.5h.01M322.0,158.8h.01M371.4,206.4h.01M332.7,188.2h.01M364.2,154.6h.01M373.3,215.1h.01M328.8,203.8h.01M364.5,177.1h.01M377.6,168.5h.01M345.7,211.7h.01M385.6,168.9h.01M329.7,197.7h.01M324.4,222.7h.01M338.3,184.6h.01M344.9,212.8h.01M380.3,201.9h.01M325.9,178.4h.01M365.0,168.3h.01M377.9,216.1h.01M330.0,179.1h.01M330.1,204.9h.01M316.8,203.2h.01M318.0,213.8h.01M320.4,155.8h.01M339.2,224.2h.01M357.3,215.3h.01M318.0,160.0h.01M314.9,203.3h.01M326.3,172.4h.01M337.0,186.6h.01M334.5,193.4h.01M331.6,173.9h.01M332.5,153.8h.01M336.1,195.7h.01M333.0,160.8h.01M375.2,186.7h.01M378.2,207.5h.01M364.0,189.0h.01M371.0,217.5h.01M329.8,154.2h.01M335.4,154.9h.01M371.6,197.7h.01M334.3,166.5h.01M376.9,213.4h.01M367.8,185.7h.01M342.5,192.8h.01M377.8,224.7h.01M380.4,213.4h.01M318.8,170.6h.01M384.4,192.1h.01M376.4,190.2h.01M385.8,158.1h.01M386.0,153.6h.01M324.2,180.9h.01M360.1,160.6h.01M354.5,220.9h.01M345.2,208.1h.01M326.1,186.4h.01M379.2,201.6h.01M329.2,185.1h.01M314.7,168.6h.01M361.4,168.2h.01M318.7,208.0h.01M337.8,222.3h.01M354.2,160.0h.01M360.0,171.7h.01M372.9,205.3h.01M368.8,156.8h.01M315.9,210.6h.01M323.7,167.3h.01M315.6,164.5h.01M348.0,222.3h.01M373.9,166.0h.01M381.8,155.8h.01M373.6,171.0h.01M365.7,166.1h.01M349.6,223.0h.01M330.9,172.9h.01M380.5,201.7h.01M318.2,166.2h.01M330.7,173.7h.01M375.1,203.6h.01M385.0,201.3h.01M359.3,180.5h.01M365.8,188.5h.01M317.7,188.4h.01M341.5,191.2h.01M317.0,154.6h.01M385.2,179.6h.01M337.5,163.4h.01M356.7,219.1h.01M326.6,189.0h.01M349.9,208.3h.01M354.7,170.0h.01M327.3,205.3h.01M319.1,215.5h.01M315.8,166.4h.01M347.6,214.0h.01M369.0,205.2h.01M317.2,212.6h.01M324.2,164.4h.01M316.1,154.7h.01M377.5,180.3h.01M319.7,156.0h.01M375.3,196.4h.01M380.4,155.3h.01M321.6,173.5h.01M327.4,160.8h.01M328.1,199.2h.01M325.7,164.9h.01M324.3,193.9h.01M348.1,155.5h.01M358.4,166.7h.01M337.9,153.3h.01M378.3,195.4h.01M342.1,192.0h.01M382.1,162.2h.01M341.4,204.1h.01M340.6,204.0h.01M379.8,155.6h.01M334.2,173.9h.01M368.2,209.7h.01M364.5,219.9h.01M327.0,181.2h.01M375.7,208.3h.01M321.6,223.9h.01M367.5,215.6h.01M339.9,196.6h.01M383.5,217.9h.01M355.6,217.3h.01M386.4,213.7h.01M361.3,222.5h.01M323.9,182.0h.01M354.6,162.2h.01M370.5,157.1h.01M359.4,172.9h.01M337.0,196.7h.01M327.4,185.2h.01M376.1,224.4h.01M332.6,179.2h.01M364.1,166.4h.01M375.5,167.1h.01M354.1,177.3h.01M313.5,152.7h.01M313.5,176.5h.01M333.5,224.7h.01M360.0,157.3h.01M365.7,169.5h.01M348.6,205.2h.01M376.0,220.6h.01M367.6,186.3h.01M363.5,163.7h.01M370.6,222.9h.01M328.2,197.5h.01M325.2,155.2h.01M343.7,165.9h.01M366.8,194.2h.01M362.7,223.0h.01M317.7,159.8h.01M316.0,186.0h.01M373.7,202.3h.01M353.4,214.9h.01M340.6,160.8h.01M360.3,154.5h.01M330.2,154.8h.01M325.2,157.2h.01M352.3,161.9h.01M357.5,212.6h.01M338.6,161.4h.01M378.0,192.9h.01M355.9,215.4h.01M362.9,223.5h.01M334.4,208.9h.01M359.7,186.7h.01M314.2,187.3h.01M332.7,196.4h.01M317.7,162.2h.01M385.8,210.3h.01M334.6,185.8h.01M350.4,211.1h.01M342.2,219.6h.01M386.5,156.0h.01M342.6,158.4h.01M363.0,163.6h.01M324.3,183.4h.01M340.3,217.2h.01M329.0,153.4h.01M378.2,187.7h.01M323.1,162.5h.01M378.5,207.1h.01M318.1,201.7h.01M329.0,185.0h.01M357.6,156.3h.01M381.8,177.0h.01M323.9,209.4h.01M321.4,155.3h.01M361.1,186.8h.01M379.2,210.1h.01M328.5,155.9h.01M335.4,219.3h.01M328.6,199.4h.01M318.8,219.8h.01M382.8,197.6h.01M336.8,205.3h.01M379.4,210.4h.01M316.4,189.3h.01M323.6,192.3h.01M382.8,215.5h.01M331.6,192.8h.01M336.6,164.9h.01M367.8,207.8h.01M347.3,161.2h.01M320.4,164.9h.01M373.8,188.7h.01M360.5,179.1h.01M340.4,165.4h.01M384.6,196.7h.01M322.8,203.7h.01M369.7,196.9h.01M377.5,223.1h.01M343.1,199.8h.01M340.2,199.7h.01M375.3,210.8h.01M362.8,214.0h.01M341.6,199.4h.01M331.8,175.5h.01M320.8,210.7h.01M380.7,174.6h.01M341.1,161.1h.01M323.8,199.0h.01M378.6,158.7h.01M332.0,207.8h.01M329.9,216.5h.01M339.2,187.0h.01M328.1,173.8h.01M366.7,154.8h.01M337.2,166.5h.01M322.2,158.2h.01M371.3,196.5h.01M314.5,185.6h.01M357.2,175.8h.01M315.9,183.2h.01M339.2,223.3h.01M339.7,219.7h.01M376.9,194.4h.01M322.6,211.4h.01M320.0,193.1h.01M320.5,159.3h.01M343.4,164.0h.01M385.9,194.6h.01M379.0,222.2h.01M368.8,199.6h.01M348.0,209.2h.01M362.3,164.1h.01M363.8,194.1h.01M371.1,212.6h.01M320.2,163.2h.01M316.8,164.3h.01M383.5,175.1h.01M354.7,172.9h.01M370.3,176.7h.01M375.2,211.1h.01M313.5,192.4h.01M320.2,216.9h.01M318.5,172.0h.01M369.6,195.6h.01M362.2,182.6h.01M351.5,167.4h.01M362.8,160.4h.01M323.5,167.0h.01M313.6,224.4h.01M374.5,180.2h.01M325.0,212.7h.01M384.8,165.6h.01M368.7,212.1h.01M381.9,167.8h.01M322.2,164.6h.01M330.3,218.1h.01M379.9,187.1h.01M322.7,178.2h.01M331.0,199.8h.01M366.0,209.1h.01M346.7,202.5h.01M365.4,176.3h.01M354.8,163.2h.01M316.7,180.8h.01M339.7,155.0h.01M319.2,183.6h.01M382.3,213.5h.01M315.6,175.6h.01M323.4,195.5h.01M374.7,180.4h.01M326.3,160.3h.01M314.5,208.3h.01M330.3,205.3h.01M371.2,158.7h.01M327.2,175.5h.01M369.6,206.2h.01M335.5,185.5h.01M339.4,186.9h.01M371.4,171.6h.01M372.6,219.5h.01M357.3,222.4h.01M382.0,165.1h.01M385.9,167.2h.01M372.2,161.4h.01M335.5,184.8h.01M374.7,202.1h.01M328.3,217.9h.01M376.7,189.7h.01M317.1,173.4h.01M334.8,183.1h.01M382.3,195.9h.01M373.3,157.8h.01M331.3,205.8h.01M318.0,156.3h.01M342.6,193.7h.01M334.7,153.8h.01M362.7,177.0h.01M333.1,156.4h.01M321.8,154.7h.01M348.5,154.0h.01M377.7,178.8h.01M315.2,160.0h.01M370.8,193.1h.01M368.3,189.2h.01M371.3,213.4h.01M378.7,205.4h.01M362.7,186.2h.01M351.8,212.2h.01M376.1,156.4h.01M368.4,197.4h.01M357.1,218.7h.01M317.0,187.2h.01M340.8,221.6h.01M325.4,193.6h.01M324.0,207.4h.01M349.2,206.1h.01M335.8,216.9h.01M313.9,168.9h.01M367.0,216.5h.01M370.2,172.6h.01M319.3,204.2h.01M366.9,157.0h.01M381.7,191.0h.01M315.8,187.5h.01M338.1,160.2h.01M378.1,220.6h.01M322.5,185.0h.01M333.4,201.5h.01M321.4,176.9h.01M382.1,220.4h.01M379.7,212.9h.01M330.1,170.4h.01M357.7,178.0h.01M385.9,175.3h.01M314.8,159.2h.01M328.7,205.8h.01M374.9,155.6h.01M330.7,170.2h.01M370.9,217.9h.01M332.6,160.0h.01M384.1,223.3h.01M365.8,187.0h.01M368.0,208.4h.01M350.6,172.3h.01M337.1,199.1h.01M324.1,223.2h.01M328.9,169.1h.01M383.6,221.7h.01M381.0,213.8h.01M375.4,212.3h.01M354.8,158.0h.01M366.9,213.4h.01M374.6,155.8h.01M317.9,205.8h.01M349.1,217.6h.01M385.8,185.1h.01M364.1,179.3h.01M360.1,157.5h.01M379.2,205.2h.01M372.1,186.2h.01M328.4,185.4h.01M363.2,192.5h.01M321.3,152.9h.01M330.0,168.7h.01M343.8,203.2h.01M380.1,201.8h.01M314.9,215.7h.01M358.3,178.4h.01M338.2,157.8h.01M361.9,156.5h.01M363.2,218.9h.01M372.5,222.4h.01M372.8,224.6h.01M347.0,153.7h.01M376.5,197.1h.01M340.0,152.9h.01M374.1,198.0h.01M385.4,195.8h.01M375.7,208.8h.01M385.8,186.2h.01M379.0,181.5h.01M314.2,176.3h.01M339.1,224.8h.01M363.9,159.7h.01M335.7,181.3h.01M322.5,196.1h.01M344.3,210.9h.01M338.2,223.7h.01M327.7,191.2h.01M329.9,153.6h.01M335.4,217.7h.01M334.7,188.1h.01M351.7,172.0h.01M352.5,157.4h.01M373.0,208.6h.01M364.6,195.9h.01M376.7,206.5h.01M317.4,162.1h.01" stroke="#00f" stroke-width="1.0" stroke-linecap="round" fill="none"/>
<g fill="none" stroke="#f00" stroke-width="1.35" stroke-linejoin="round">
<path d="M361.40,207.83L360.40,208.34L359.69,208.54L359.02,208.59L358.35,208.50L357.66,208.28L356.96,207.94L356.23,207.47L355.47,206.89L354.68,206.19L353.87,205.36L353.02,204.42L352.14,203.34L351.23,202.14L350.26,200.78L349.24,199.26L348.14,197.52L346.88,195.45L344.96,192.15L343.06,188.84L341.90,186.71L340.94,184.88L340.13,183.24L339.44,181.73L338.85,180.33L338.37,179.03L337.97,177.83L337.66,176.71L337.45,175.68L337.32,174.73L337.29,173.86L337.34,173.08L337.50,172.38L337.76,171.75L338.13,171.19L338.66,170.68L339.60,170.07L340.60,169.56L341.31,169.36L341.98,169.31L342.65,169.40L343.34,169.62L344.04,169.96L344.77,170.43L345.53,171.01L346.32,171.71L347.13,172.54L347.98,173.48L348.86,174.56L349.77,175.76L350.74,177.12L351.76,178.64L352.86,180.38L354.12,182.45L356.04,185.75L357.94,189.06L359.10,191.19L360.06,193.02L360.87,194.66L361.56,196.17L362.15,197.57L362.63,198.87L363.03,200.07L363.34,201.19L363.55,202.22L363.68,203.17L363.71,204.04L363.66,204.82L363.50,205.52L363.24,206.15L362.87,206.71L362.34,207.22Z"/>
<path d="M358.75,203.24L358.16,203.53L357.68,203.63L357.22,203.62L356.73,203.51L356.23,203.31L355.70,203.00L355.15,202.61L354.57,202.12L353.97,201.54L353.34,200.87L352.69,200.11L352.01,199.26L351.30,198.31L350.56,197.26L349.79,196.10L348.97,194.79L348.05,193.28L346.78,191.10L345.52,188.91L344.67,187.36L343.96,185.99L343.34,184.74L342.79,183.58L342.33,182.49L341.93,181.48L341.59,180.53L341.33,179.65L341.13,178.84L341.00,178.10L340.93,177.42L340.93,176.81L341.00,176.27L341.15,175.80L341.38,175.39L341.70,175.03L342.25,174.66L342.84,174.37L343.32,174.27L343.78,174.28L344.27,174.39L344.77,174.59L345.30,174.90L345.85,175.29L346.43,175.78L347.03,176.36L347.66,177.03L348.31,177.79L348.99,178.64L349.70,179.59L350.44,180.64L351.21,181.80L352.03,183.11L352.95,184.62L354.22,186.80L355.48,188.99L356.33,190.54L357.04,191.91L357.66,193.16L358.21,194.32L358.67,195.41L359.07,196.42L359.41,197.37L359.67,198.25L359.87,199.06L360.00,199.80L360.07,200.48L360.07,201.09L360.00,201.63L359.85,202.10L359.62,202.51L359.30,202.87Z"/>
<path d="M353.45,194.06L353.12,194.17L352.77,194.15L352.37,194.00L351.94,193.73L351.48,193.35L351.00,192.86L350.50,192.28L349.98,191.59L349.46,190.81L348.90,189.88L348.37,188.92L347.95,188.08L347.62,187.29L347.36,186.56L347.18,185.90L347.08,185.31L347.06,184.80L347.13,184.39L347.29,184.07L347.55,183.84L347.88,183.73L348.23,183.75L348.63,183.90L349.06,184.17L349.52,184.55L350.00,185.04L350.50,185.62L351.02,186.31L351.54,187.09L352.10,188.02L352.63,188.98L353.05,189.82L353.38,190.61L353.64,191.34L353.82,192.00L353.92,192.59L353.94,193.10L353.87,193.51L353.71,193.83Z" stroke-width="1.5"/>
</g>
<rect x="312.5" y="151.7" width="74.89999999999998" height="74.55" fill="none" stroke="#000" stroke-width="1.2"/>
<rect x="63.9" y="1.95" width="398.1" height="245.55" fill="none" stroke="#1a1a1a" stroke-width="1.25"/>
<path d="M82.41,247.5v-3.0M82.41,1.95v3.0M93.23,247.5v-3.0M93.23,1.95v3.0M100.91,247.5v-3.0M100.91,1.95v3.0M106.87,247.5v-3.0M106.87,1.95v3.0M111.74,247.5v-3.0M111.74,1.95v3.0M115.86,247.5v-3.0M115.86,1.95v3.0M119.42,247.5v-3.0M119.42,1.95v3.0M122.57,247.5v-3.0M122.57,1.95v3.0M125.38,247.5v-5.6M125.38,1.95v5.6M143.89,247.5v-3.0M143.89,1.95v3.0M154.71,247.5v-3.0M154.71,1.95v3.0M162.39,247.5v-3.0M162.39,1.95v3.0M168.35,247.5v-3.0M168.35,1.95v3.0M173.22,247.5v-3.0M173.22,1.95v3.0M177.34,247.5v-3.0M177.34,1.95v3.0M180.90,247.5v-3.0M180.90,1.95v3.0M184.05,247.5v-3.0M184.05,1.95v3.0M186.86,247.5v-5.6M186.86,1.95v5.6M205.37,247.5v-3.0M205.37,1.95v3.0M216.19,247.5v-3.0M216.19,1.95v3.0M223.87,247.5v-3.0M223.87,1.95v3.0M229.83,247.5v-3.0M229.83,1.95v3.0M234.70,247.5v-3.0M234.70,1.95v3.0M238.82,247.5v-3.0M238.82,1.95v3.0M242.38,247.5v-3.0M242.38,1.95v3.0M245.53,247.5v-3.0M245.53,1.95v3.0M248.34,247.5v-5.6M248.34,1.95v5.6M266.85,247.5v-3.0M266.85,1.95v3.0M277.67,247.5v-3.0M277.67,1.95v3.0M285.35,247.5v-3.0M285.35,1.95v3.0M291.31,247.5v-3.0M291.31,1.95v3.0M296.18,247.5v-3.0M296.18,1.95v3.0M300.30,247.5v-3.0M300.30,1.95v3.0M303.86,247.5v-3.0M303.86,1.95v3.0M307.01,247.5v-3.0M307.01,1.95v3.0M309.82,247.5v-5.6M309.82,1.95v5.6M328.33,247.5v-3.0M328.33,1.95v3.0M339.15,247.5v-3.0M339.15,1.95v3.0M346.83,247.5v-3.0M346.83,1.95v3.0M352.79,247.5v-3.0M352.79,1.95v3.0M357.66,247.5v-3.0M357.66,1.95v3.0M361.78,247.5v-3.0M361.78,1.95v3.0M365.34,247.5v-3.0M365.34,1.95v3.0M368.49,247.5v-3.0M368.49,1.95v3.0M371.30,247.5v-5.6M371.30,1.95v5.6M389.81,247.5v-3.0M389.81,1.95v3.0M400.63,247.5v-3.0M400.63,1.95v3.0M408.31,247.5v-3.0M408.31,1.95v3.0M414.27,247.5v-3.0M414.27,1.95v3.0M419.14,247.5v-3.0M419.14,1.95v3.0M423.26,247.5v-3.0M423.26,1.95v3.0M426.82,247.5v-3.0M426.82,1.95v3.0M429.97,247.5v-3.0M429.97,1.95v3.0M432.78,247.5v-5.6M432.78,1.95v5.6M451.29,247.5v-3.0M451.29,1.95v3.0M63.9,216.78h6.0M462.0,216.78h-6.0M63.9,186.09h3.6M462.0,186.09h-3.6M63.9,155.40h6.0M462.0,155.40h-6.0M63.9,124.71h3.6M462.0,124.71h-3.6M63.9,94.02h6.0M462.0,94.02h-6.0M63.9,63.33h3.6M462.0,63.33h-3.6M63.9,32.64h6.0M462.0,32.64h-6.0" stroke="#1a1a1a" stroke-width="1.15" fill="none"/>
<g style="font-family:'Liberation Serif',serif;text-rendering:geometricPrecision" fill="#1c1c1c" opacity="0.999">
<text transform="translate(23.83,37.24) scale(1.006,1.000)" font-size="17.74">10</text>
<text transform="translate(42.02,29.94) scale(1.014,1.000)" font-size="12.33">0</text>
<text transform="translate(12.78,98.62) scale(1.006,1.000)" font-size="17.74">10</text>
<text transform="translate(30.72,92.73) scale(1.035,1.000)" font-size="16.0">−</text>
<text transform="translate(41.27,90.72) scale(1.108,1.000)" font-size="11.93">2</text>
<text transform="translate(12.78,160.00) scale(1.006,1.000)" font-size="17.74">10</text>
<text transform="translate(30.72,154.11) scale(1.035,1.000)" font-size="16.0">−</text>
<text transform="translate(40.99,152.10) scale(1.095,1.000)" font-size="12.01">4</text>
<text transform="translate(12.78,221.38) scale(1.006,1.000)" font-size="17.74">10</text>
<text transform="translate(30.72,215.49) scale(1.035,1.000)" font-size="16.0">−</text>
<text transform="translate(41.10,213.48) scale(1.040,1.000)" font-size="12.39">6</text>
<text transform="translate(51.18,277.05) scale(1.006,1.000)" font-size="17.74">10</text>
<text transform="translate(69.38,270.25) scale(1.014,1.000)" font-size="12.33">0</text>
<text transform="translate(174.14,277.05) scale(1.006,1.000)" font-size="17.74">10</text>
<text transform="translate(192.43,270.25) scale(1.108,1.000)" font-size="11.93">2</text>
<text transform="translate(297.10,277.05) scale(1.006,1.000)" font-size="17.74">10</text>
<text transform="translate(315.11,270.25) scale(1.095,1.000)" font-size="12.01">4</text>
<text transform="translate(420.06,277.05) scale(1.006,1.000)" font-size="17.74">10</text>
<text transform="translate(438.18,270.25) scale(1.040,1.000)" font-size="12.39">6</text>
<text transform="translate(2.94,67.30) scale(1.409,1.000)" font-size="16.90" font-style="italic">f</text>
<text transform="translate(11.83,70.40) scale(1.356,1.000)" font-size="11.68" font-style="italic">m</text>
<text transform="translate(367.60,281.60) scale(1.119,1.000)" font-size="18.29" font-style="italic">t</text>
<text transform="translate(300.86,159.23) scale(1.122,1.106)" font-size="16.0" font-style="italic">p</text>
<text transform="translate(390.68,218.31) scale(0.988,1.023)" font-size="16.0" font-style="italic">q</text>
<text transform="translate(406.77,41.30) scale(1.302,1.000)" font-size="15.50" font-style="italic">m</text>
<text transform="translate(426.08,43.48) scale(1.519,1.113)" font-size="16.0">=</text>
<text transform="translate(445.01,41.30) scale(1.165,1.000)" font-size="15.41">2</text>
<text transform="translate(406.77,70.50) scale(1.302,1.000)" font-size="15.50" font-style="italic">m</text>
<text transform="translate(426.08,72.68) scale(1.519,1.113)" font-size="16.0">=</text>
<text transform="translate(445.60,70.50) scale(1.029,1.000)" font-size="15.45">1</text>
<text transform="translate(406.77,125.40) scale(1.302,1.000)" font-size="15.50" font-style="italic">m</text>
<text transform="translate(426.08,127.58) scale(1.519,1.113)" font-size="16.0">=</text>
<text transform="translate(445.15,125.40) scale(1.107,1.000)" font-size="15.34">0</text>
</g>
</svg>
</body></html>
